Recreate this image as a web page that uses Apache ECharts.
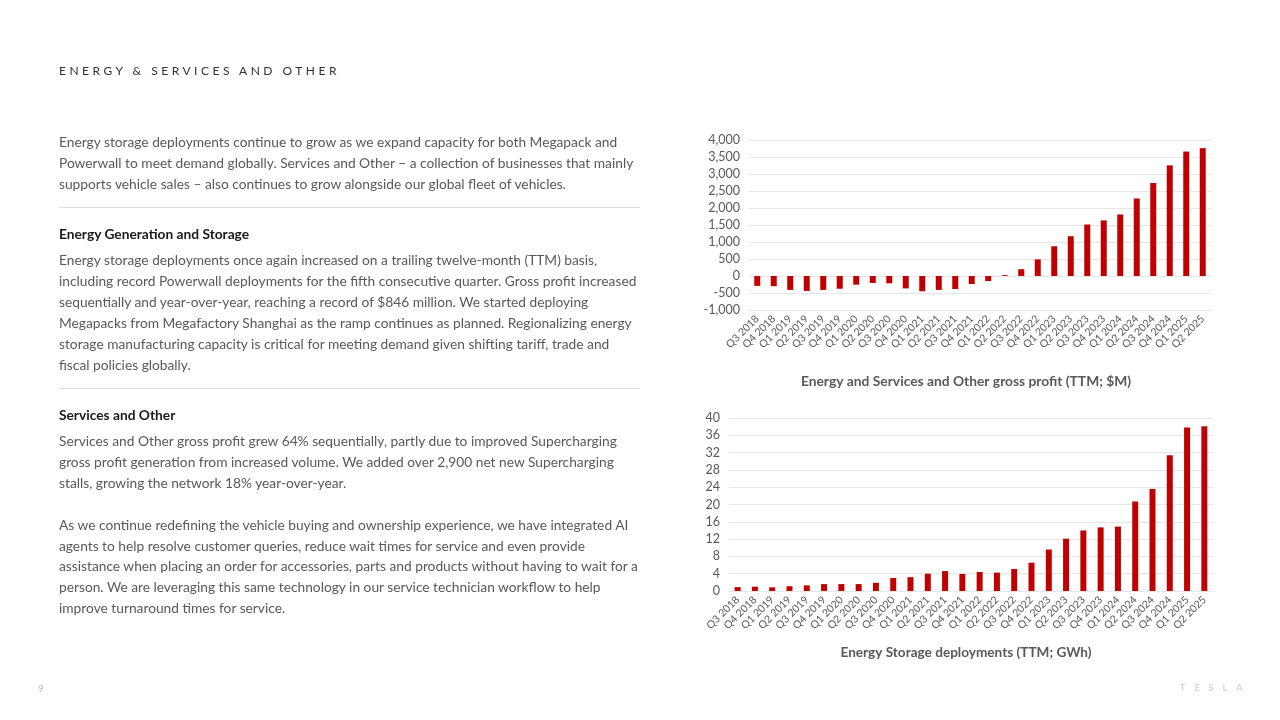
<!DOCTYPE html>
<html>
<head>
<meta charset="utf-8">
<script src="https://cdn.jsdelivr.net/npm/echarts@6/dist/echarts.min.js"></script>
<style>
  html, body { margin: 0; padding: 0; background: #fff; }
  #page { position: relative; width: 1280px; height: 720px; overflow: hidden; font-family: Lato, "Open Sans", sans-serif; }
  #chart { position: absolute; left: 0; top: 0; width: 1280px; height: 720px; }
  .txt { position: absolute; left: 59px; white-space: nowrap; color: #595959; font-size: 13.75px; line-height: 20.9px; }
  .head { position: absolute; left: 59px; white-space: nowrap; color: #1a1a1a; font-size: 13.75px; font-weight: bold; }
  .rule { position: absolute; left: 59px; width: 581px; height: 0; border-top: 1.5px solid #dcdcdc; }
  #title { position: absolute; left: 59px; top: 63px; font-size: 12px; letter-spacing: 3.5px; color: #333; white-space: nowrap; }
  #pageno { position: absolute; left: 38px; top: 682px; font-size: 10px; color: #bdbdbd; }
  #logo { position: absolute; left: 1180px; top: 682px; font-size: 9px; letter-spacing: 9px; color: #d6d6d6; font-weight: bold; }
</style>
</head>
<body>
<div id="page">
  <div id="chart"></div>
  <div id="title">ENERGY &amp; SERVICES AND OTHER</div>
  <div class="txt" style="top:132px">Energy storage deployments continue to grow as we expand capacity for both Megapack and<br>Powerwall to meet demand globally. Services and Other – a collection of businesses that mainly<br>supports vehicle sales – also continues to grow alongside our global fleet of vehicles.</div>
  <div class="rule" style="top:207px"></div>
  <div class="head" style="top:225px">Energy Generation and Storage</div>
  <div class="txt" style="top:250px">Energy storage deployments once again increased on a trailing twelve-month (TTM) basis,<br>including record Powerwall deployments for the fifth consecutive quarter. Gross profit increased<br>sequentially and year-over-year, reaching a record of $846 million. We started deploying<br>Megapacks from Megafactory Shanghai as the ramp continues as planned. Regionalizing energy<br>storage manufacturing capacity is critical for meeting demand given shifting tariff, trade and<br>fiscal policies globally.</div>
  <div class="rule" style="top:388px"></div>
  <div class="head" style="top:406px">Services and Other</div>
  <div class="txt" style="top:431px">Services and Other gross profit grew 64% sequentially, partly due to improved Supercharging<br>gross profit generation from increased volume. We added over 2,900 net new Supercharging<br>stalls, growing the network 18% year-over-year.<br><br>As we continue redefining the vehicle buying and ownership experience, we have integrated AI<br>agents to help resolve customer queries, reduce wait times for service and even provide<br>assistance when placing an order for accessories, parts and products without having to wait for a<br>person. We are leveraging this same technology in our service technician workflow to help<br>improve turnaround times for service.</div>
  <div id="pageno">9</div>
  <div id="logo">TESLA</div>
</div>
<script>
var quarters = ['Q3 2018', 'Q4 2018', 'Q1 2019', 'Q2 2019', 'Q3 2019', 'Q4 2019', 'Q1 2020', 'Q2 2020',
  'Q3 2020', 'Q4 2020', 'Q1 2021', 'Q2 2021', 'Q3 2021', 'Q4 2021', 'Q1 2022', 'Q2 2022', 'Q3 2022',
  'Q4 2022', 'Q1 2023', 'Q2 2023', 'Q3 2023', 'Q4 2023', 'Q1 2024', 'Q2 2024', 'Q3 2024', 'Q4 2024',
  'Q1 2025', 'Q2 2025'];

// gross profit, TTM, $M
var grossProfit = [-290, -300, -410, -440, -410, -375, -255, -205, -215, -365, -450, -410, -385, -235,
  -150, 25, 200, 490, 875, 1170, 1515, 1635, 1810, 2280, 2735, 3255, 3660, 3760];

// energy storage deployments, TTM, GWh
var deployments = [0.9, 1.0, 0.85, 1.1, 1.3, 1.6, 1.6, 1.6, 1.9, 3.0, 3.2, 4.0, 4.6, 3.95, 4.4, 4.25,
  5.1, 6.55, 9.6, 12.1, 14.0, 14.7, 14.9, 20.7, 23.6, 31.4, 37.8, 38.1];

var titles = ['Energy and Services and Other gross profit (TTM; $M)', 'Energy Storage deployments (TTM; GWh)'];

var fontFamily = 'Lato, "Open Sans", sans-serif';
var axisGray = '#595959';
var barRed = '#c00000';

function fmtThousands(v) {
  var s = Math.abs(v).toString().replace(/\B(?=(\d{3})+(?!\d))/g, ',');
  return (v < 0 ? '-' : '') + s;
}

function xAxisFor(gridIndex) {
  return {
    type: 'category',
    gridIndex: gridIndex,
    data: quarters,
    axisLine: { show: false },
    axisTick: { show: false },
    axisLabel: { rotate: 45, fontSize: 10.5, color: axisGray, fontFamily: fontFamily, margin: 7, interval: 0 }
  };
}

function yAxisFor(gridIndex, min, max, step) {
  return {
    type: 'value',
    gridIndex: gridIndex,
    min: min,
    max: max,
    interval: step,
    axisLine: { show: false },
    axisTick: { show: false },
    splitLine: { lineStyle: { color: '#e6e6e6', width: 1 } },
    axisLabel: { fontSize: 12.5, color: axisGray, fontFamily: fontFamily, margin: 9, formatter: fmtThousands }
  };
}

var myChart = echarts.init(document.getElementById('chart'), null, { renderer: 'canvas' });

myChart.setOption({
  animation: false,
  textStyle: { fontFamily: fontFamily },
  title: [
    { text: titles[0], left: 961, top: 370, textAlign: 'center',
      textStyle: { fontSize: 13.8, fontWeight: 'bold', color: axisGray, fontFamily: fontFamily } },
    { text: titles[1], left: 961, top: 641, textAlign: 'center',
      textStyle: { fontSize: 13.6, fontWeight: 'bold', color: axisGray, fontFamily: fontFamily } }
  ],
  grid: [
    { left: 749, top: 140, width: 462, height: 170 },
    { left: 729, top: 418, width: 484, height: 173 }
  ],
  xAxis: [xAxisFor(0), xAxisFor(1)],
  yAxis: [yAxisFor(0, -1000, 4000, 500), yAxisFor(1, 0, 40, 4)],
  series: [
    { type: 'bar', xAxisIndex: 0, yAxisIndex: 0, data: grossProfit, barWidth: 6,
      itemStyle: { color: barRed } },
    { type: 'bar', xAxisIndex: 1, yAxisIndex: 1, data: deployments, barWidth: 6,
      itemStyle: { color: barRed } }
  ]
});
</script>
</body>
</html>
